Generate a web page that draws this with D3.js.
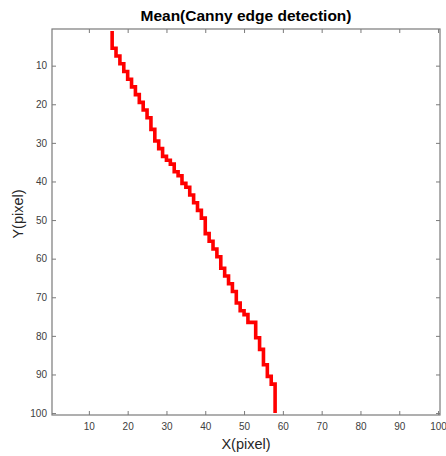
<!DOCTYPE html>
<html>
<head>
<meta charset="utf-8">
<script src="https://cdn.jsdelivr.net/npm/d3@7"></script>
<style>
  html, body { margin: 0; padding: 0; background: #fff; }
  svg { display: block; font-family: "Liberation Sans", Arial, Helvetica, sans-serif; }
</style>
</head>
<body>
<svg id="chart" width="446" height="456"></svg>
<script>
// ---- data (column of the mean edge for each image row 1..100) ----
const edgeCols = [
  16, 16, 16, 16, 16, 17, 17, 18, 18, 19,
  19, 20, 20, 21, 21, 22, 22, 23, 23, 24,
  24, 25, 25, 26, 26, 26, 27, 27, 27, 28,
  28, 29, 29, 30, 31, 32, 32, 33, 34, 34,
  35, 36, 36, 37, 37, 38, 38, 39, 39, 40,
  40, 40, 40, 41, 41, 42, 42, 43, 43, 44,
  44, 44, 45, 45, 46, 46, 47, 47, 48, 48,
  48, 49, 49, 50, 51, 51, 53, 53, 53, 53,
  54, 54, 54, 55, 55, 55, 55, 56, 56, 56,
  57, 57, 58, 58, 58, 58, 58, 58, 58, 58
];
const edgeRows = edgeCols.map((_, i) => i + 1);
const xTicks = [10, 20, 30, 40, 50, 60, 70, 80, 90, 100];
const yTicks = [10, 20, 30, 40, 50, 60, 70, 80, 90, 100];
const titleText = "Mean(Canny edge detection)";
const xLabel = "X(pixel)";
const yLabel = "Y(pixel)";

// ---- layout ----
const svg = d3.select("#chart");
const L = 52, R = 440, T = 29, B = 415;
const x = d3.scaleLinear().domain([0.5, 100.5]).range([L, R]);
const y = d3.scaleLinear().domain([0.5, 100.5]).range([T, B]);

const axisColor = "#7a7a7a";
const textColor = "#404040";

// edge line (vertical-first stair steps via transposed curveStep)
const pts = edgeRows.map((r, i) => ({ r, c: edgeCols[i] }));
const line = d3.line()
  .x(d => y(d.r))
  .y(d => x(d.c))
  .curve(d3.curveStep);
svg.append("path")
  .attr("d", line(pts))
  .attr("transform", "matrix(0,1,1,0,0,0)")
  .attr("fill", "none")
  .attr("stroke", "#ff0000")
  .attr("stroke-width", 3.6)
  .attr("stroke-linejoin", "miter");

// axes
function styleAxis(g, showText) {
  g.select(".domain").remove();
  g.selectAll(".tick line").attr("stroke", axisColor).attr("stroke-width", 1);
  g.selectAll(".tick text")
    .attr("fill", textColor)
    .style("font-size", "10px")
    .style("display", showText ? null : "none");
}
svg.append("g").attr("transform", `translate(0,${B})`)
  .call(d3.axisBottom(x).tickValues(xTicks).tickSizeInner(-4).tickSizeOuter(0).tickPadding(8))
  .call(g => styleAxis(g, true));
svg.append("g").attr("transform", `translate(0,${T})`)
  .call(d3.axisTop(x).tickValues(xTicks).tickSizeInner(-4).tickSizeOuter(0))
  .call(g => styleAxis(g, false));
svg.append("g").attr("transform", `translate(${L},0)`)
  .call(d3.axisLeft(y).tickValues(yTicks).tickSizeInner(-4).tickSizeOuter(0).tickPadding(5))
  .call(g => styleAxis(g, true));
svg.append("g").attr("transform", `translate(${R},0)`)
  .call(d3.axisRight(y).tickValues(yTicks).tickSizeInner(-4).tickSizeOuter(0))
  .call(g => styleAxis(g, false));

// box
svg.append("rect")
  .attr("x", L).attr("y", T)
  .attr("width", R - L).attr("height", B - T)
  .attr("fill", "none")
  .attr("stroke", axisColor)
  .attr("stroke-width", 1.2);

// title & labels
svg.append("text")
  .attr("x", (L + R) / 2).attr("y", 21)
  .attr("text-anchor", "middle")
  .style("font-size", "15.5px").style("font-weight", "bold")
  .attr("fill", "#000")
  .text(titleText);
svg.append("text")
  .attr("x", (L + R) / 2).attr("y", 449)
  .attr("text-anchor", "middle")
  .style("font-size", "14.5px")
  .attr("fill", "#262626")
  .text(xLabel);
svg.append("text")
  .attr("transform", `translate(23,${(T + B) / 2 - 8}) rotate(-90)`)
  .attr("text-anchor", "middle")
  .style("font-size", "14.5px")
  .attr("fill", "#262626")
  .text(yLabel);
</script>
</body>
</html>
